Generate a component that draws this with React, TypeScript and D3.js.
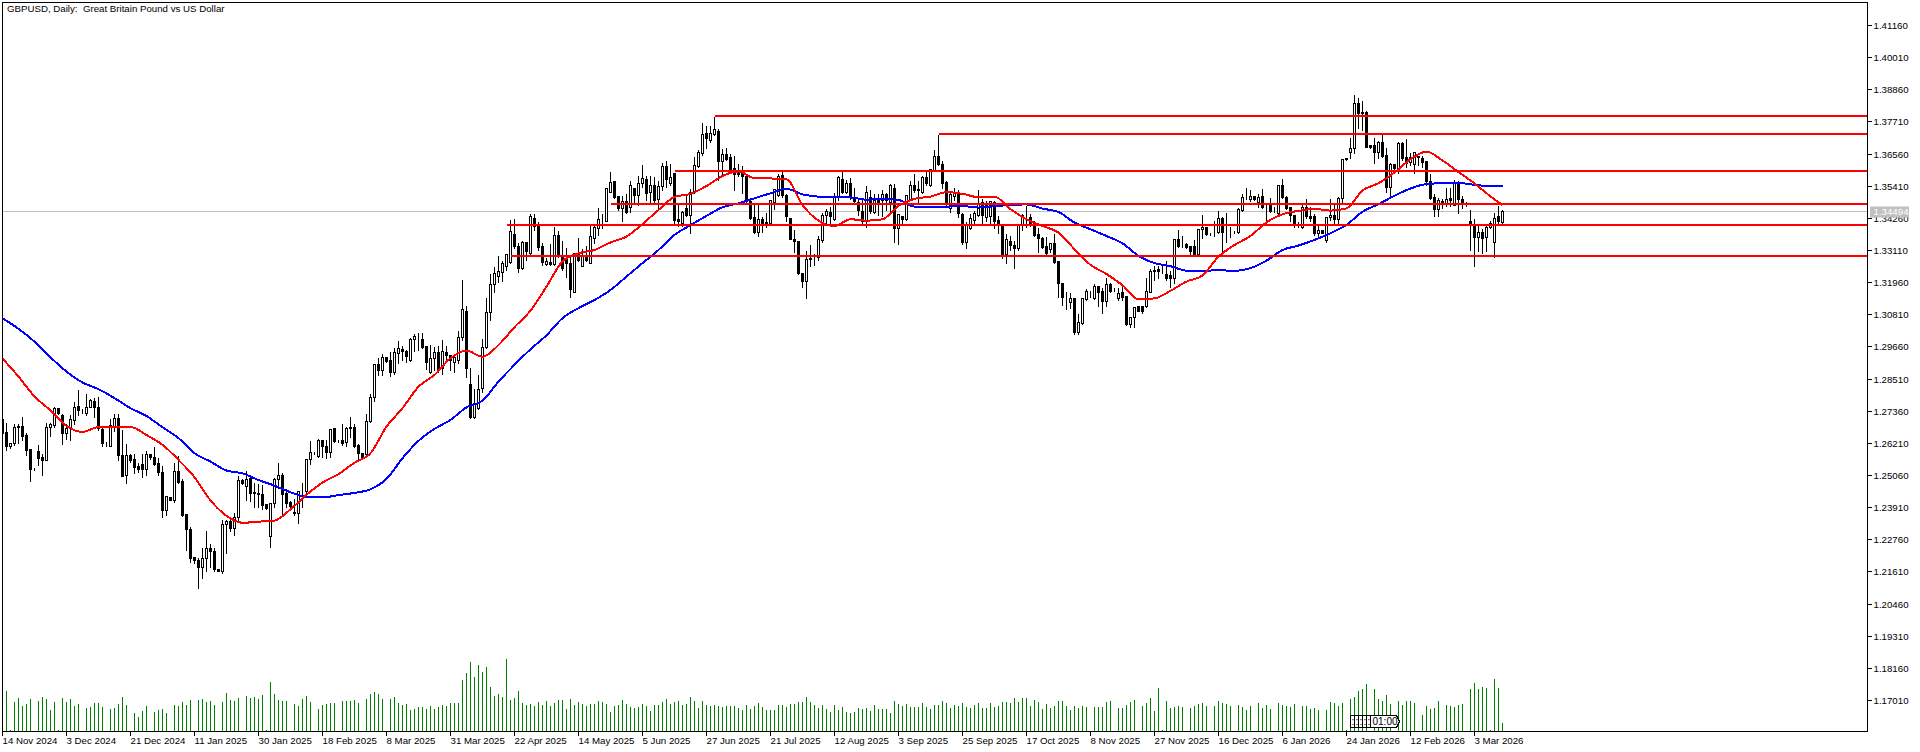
import React, { useEffect, useRef } from 'react';
import * as d3 from 'd3';

// Daily GBPUSD bars, prices in pips (1.2705 = 12705)
const opens = [
  12705,12659,12608,12620,12677,12682,12648,12598,12530,12591,
  12570,12558,12679,12686,12746,12722,12655,12673,12703,12753,
  12741,12729,12748,12772,12748,12671,12620,12611,12679,12710,
  12577,12505,12577,12562,12539,12546,12529,12582,12572,12548,
  12517,12379,12426,12415,12519,12484,12367,12312,12214,12202,
  12178,12208,12245,12233,12171,12162,12329,12343,12318,12355,
  12488,12468,12494,12446,12443,12438,12403,12286,12405,12491,
  12506,12441,12411,12374,12369,12448,12448,12562,12587,12574,
  12630,12610,12589,12674,12629,12630,12623,12675,12676,12612,
  12584,12581,12698,12784,12903,12880,12927,12918,12876,12942,
  12956,12949,12918,12992,13000,12992,12968,12874,12924,12946,
  12888,12946,12936,12911,12918,12999,13092,12832,12715,12745,
  12816,12963,13090,13190,13218,13234,13255,13267,13367,13327,
  13245,13339,13302,13426,13397,13326,13261,13267,13261,13365,
  13290,13278,13264,13162,13299,13254,13293,13266,13353,13390,
  13418,13416,13520,13558,13505,13460,13485,13464,13532,13508,
  13550,13565,13520,13544,13493,13540,13612,13550,13586,13421,
  13409,13463,13437,13519,13613,13657,13729,13703,13725,13736,
  13631,13655,13643,13604,13592,13586,13574,13487,13428,13376,
  13421,13412,13407,13484,13508,13580,13508,13426,13350,13342,
  13230,13200,13278,13284,13287,13347,13437,13447,13423,13502,
  13564,13520,13550,13502,13484,13450,13413,13502,13448,13490,
  13490,13510,13484,13532,13389,13431,13421,13493,13543,13528,
  13519,13571,13543,13598,13648,13618,13556,13460,13505,13520,
  13440,13338,13389,13419,13437,13481,13428,13431,13484,13419,
  13404,13297,13344,13329,13317,13401,13437,13428,13407,13369,
  13355,13326,13315,13335,13270,13192,13144,13126,13138,13019,
  13051,13135,13162,13138,13183,13165,13130,13188,13168,13138,
  13159,13147,13047,13070,13109,13111,13109,13162,13240,13242,
  13242,13225,13220,13210,13350,13329,13333,13326,13326,13297,
  13385,13395,13371,13377,13375,13427,13379,13377,13376,13375,
  13454,13496,13493,13505,13484,13505,13466,13472,13460,13445,
  13544,13500,13464,13437,13404,13392,13464,13433,13431,13371,
  13381,13345,13428,13437,13421,13496,13639,13663,13677,13836,
  13805,13804,13686,13687,13663,13697,13651,13538,13619,13600,
  13695,13645,13627,13619,13648,13639,13630,13559,13502,13459,
  13488,13475,13496,13472,13556,13493,13478,13413,13403,13359,
  13375,13357,13392,13338,13433,13412,
];

const highs = [
  12705,12697,12620,12691,12691,12717,12661,12598,12536,12617,
  12584,12694,12694,12753,12751,12727,12691,12723,12772,12814,
  12746,12799,12781,12784,12787,12679,12627,12709,12729,12727,
  12671,12620,12584,12584,12554,12584,12596,12586,12610,12572,
  12542,12435,12431,12554,12578,12494,12369,12324,12217,12214,
  12250,12310,12262,12250,12171,12348,12350,12355,12375,12506,
  12494,12524,12500,12482,12477,12474,12405,12407,12500,12552,
  12518,12459,12417,12423,12453,12482,12566,12632,12593,12638,
  12634,12634,12674,12679,12634,12691,12682,12717,12691,12622,
  12586,12727,12801,12906,12927,12944,12932,12948,12965,12989,
  12971,12956,12999,13013,13016,13019,12971,12975,12968,12971,
  12992,12971,12939,12939,13025,13208,13115,12892,12816,12868,
  12995,13144,13228,13252,13293,13276,13302,13422,13425,13341,
  13347,13341,13443,13443,13413,13341,13287,13335,13397,13381,
  13347,13323,13297,13305,13359,13317,13329,13401,13401,13466,
  13443,13536,13594,13558,13508,13508,13516,13562,13536,13580,
  13618,13580,13580,13576,13562,13627,13633,13624,13588,13484,
  13454,13508,13532,13648,13671,13770,13759,13759,13791,13747,
  13677,13681,13657,13651,13621,13615,13588,13502,13476,13484,
  13433,13448,13493,13532,13586,13592,13514,13428,13385,13345,
  13234,13311,13333,13299,13365,13448,13463,13469,13520,13580,
  13592,13564,13571,13536,13502,13493,13544,13528,13514,13516,
  13528,13520,13550,13550,13443,13437,13510,13562,13586,13562,
  13580,13592,13604,13671,13726,13633,13562,13520,13536,13528,
  13448,13413,13445,13454,13530,13496,13490,13490,13490,13437,
  13407,13371,13365,13347,13407,13443,13472,13443,13419,13395,
  13361,13361,13341,13371,13276,13198,13166,13162,13142,13085,
  13142,13174,13168,13194,13186,13180,13216,13198,13177,13180,
  13186,13150,13073,13111,13111,13115,13216,13246,13258,13258,
  13264,13276,13240,13353,13385,13365,13341,13329,13350,13389,
  13440,13397,13377,13419,13454,13431,13448,13397,13381,13466,
  13516,13536,13528,13508,13514,13532,13481,13502,13469,13546,
  13568,13508,13466,13440,13413,13484,13496,13469,13443,13404,
  13383,13433,13496,13478,13505,13638,13643,13714,13869,13858,
  13848,13812,13687,13717,13705,13732,13681,13627,13621,13701,
  13701,13711,13663,13663,13651,13651,13633,13586,13514,13502,
  13496,13536,13536,13564,13562,13508,13488,13458,13425,13401,
  13389,13409,13419,13448,13472,13457,
];

const lows = [
  12658,12596,12602,12614,12620,12632,12576,12486,12523,12542,
  12506,12558,12646,12679,12725,12617,12634,12632,12689,12721,
  12729,12721,12748,12715,12667,12610,12611,12608,12665,12560,
  12503,12477,12554,12512,12515,12500,12506,12564,12542,12506,
  12354,12363,12415,12411,12479,12360,12238,12193,12190,12101,
  12139,12163,12178,12164,12162,12157,12228,12307,12292,12345,
  12474,12417,12414,12393,12393,12384,12386,12250,12393,12459,
  12367,12393,12391,12363,12333,12393,12429,12544,12581,12572,
  12572,12566,12572,12624,12623,12614,12610,12643,12605,12562,
  12562,12578,12697,12769,12864,12864,12912,12861,12868,12908,
  12918,12912,12915,12951,12954,12960,12884,12870,12882,12876,
  12868,12918,12882,12876,12908,12989,12855,12709,12709,12741,
  12804,12960,13061,13162,13198,13200,13240,13264,13317,13234,
  13242,13276,13297,13381,13311,13258,13258,13258,13258,13287,
  13240,13216,13142,13159,13272,13252,13273,13264,13335,13365,
  13389,13413,13520,13496,13454,13413,13445,13448,13478,13472,
  13536,13490,13478,13484,13460,13526,13538,13544,13409,13397,
  13397,13434,13371,13514,13609,13651,13675,13699,13723,13562,
  13583,13633,13592,13524,13576,13514,13484,13421,13373,13361,
  13377,13392,13404,13457,13505,13500,13416,13350,13305,13225,
  13178,13141,13252,13258,13276,13341,13404,13407,13419,13490,
  13516,13516,13493,13478,13437,13404,13392,13445,13445,13437,
  13431,13454,13443,13341,13333,13401,13419,13490,13520,13481,
  13516,13544,13540,13595,13615,13534,13469,13448,13490,13428,
  13333,13317,13385,13404,13433,13401,13413,13401,13389,13371,
  13282,13264,13311,13248,13311,13381,13392,13397,13361,13305,
  13317,13293,13305,13264,13142,13115,13099,13103,13010,13010,
  13047,13132,13144,13136,13109,13085,13109,13162,13165,13132,
  13132,13043,13037,13037,13091,13085,13106,13159,13204,13210,
  13228,13204,13180,13192,13323,13321,13317,13297,13293,13293,
  13353,13365,13365,13361,13371,13309,13341,13357,13371,13373,
  13452,13493,13488,13490,13464,13460,13413,13448,13448,13440,
  13496,13457,13416,13392,13395,13390,13425,13416,13365,13361,
  13371,13341,13419,13401,13404,13478,13633,13639,13657,13747,
  13741,13679,13675,13621,13639,13643,13520,13505,13592,13586,
  13633,13607,13615,13588,13615,13609,13544,13494,13433,13433,
  13460,13469,13469,13472,13443,13460,13469,13311,13252,13309,
  13299,13309,13389,13285,13409,13409,
];

const closes = [
  12658,12608,12620,12677,12682,12647,12596,12529,12530,12567,
  12558,12679,12689,12746,12729,12655,12673,12705,12751,12739,
  12742,12748,12775,12748,12673,12620,12620,12684,12710,12577,
  12503,12578,12560,12536,12528,12529,12582,12570,12546,12517,
  12379,12431,12417,12519,12482,12364,12312,12209,12202,12178,
  12209,12245,12233,12169,12162,12330,12341,12316,12355,12488,
  12479,12492,12443,12441,12437,12398,12388,12405,12491,12506,
  12438,12407,12395,12369,12448,12449,12562,12587,12587,12630,
  12608,12590,12672,12627,12629,12621,12673,12676,12610,12584,
  12570,12698,12784,12903,12880,12927,12915,12876,12945,12960,
  12948,12930,12993,13004,13001,12965,12912,12924,12946,12882,
  12949,12936,12918,12927,12999,13099,12888,12715,12765,12813,
  12963,13090,13190,13228,13237,13264,13297,13379,13327,13247,
  13340,13308,13432,13397,13323,13268,13271,13260,13365,13290,
  13248,13264,13171,13302,13276,13293,13276,13361,13395,13421,
  13419,13533,13556,13500,13460,13488,13448,13544,13508,13552,
  13568,13516,13544,13490,13540,13612,13564,13571,13419,13416,
  13448,13438,13520,13614,13661,13725,13711,13729,13743,13631,
  13655,13638,13598,13583,13583,13574,13490,13426,13376,13421,
  13409,13407,13490,13530,13576,13506,13431,13352,13342,13228,
  13200,13278,13282,13284,13350,13438,13450,13433,13505,13571,
  13520,13550,13502,13488,13454,13413,13520,13450,13490,13478,
  13510,13490,13544,13389,13439,13423,13508,13543,13524,13524,
  13571,13552,13600,13648,13618,13552,13476,13512,13519,13443,
  13339,13404,13425,13443,13478,13437,13472,13488,13416,13404,
  13293,13350,13329,13317,13404,13437,13437,13404,13365,13353,
  13323,13299,13335,13267,13192,13144,13144,13138,13019,13053,
  13138,13165,13162,13183,13162,13130,13188,13166,13168,13156,
  13144,13047,13070,13107,13094,13094,13165,13237,13235,13237,
  13242,13210,13210,13350,13326,13329,13323,13309,13297,13386,
  13395,13367,13371,13377,13427,13377,13379,13377,13376,13457,
  13500,13496,13503,13493,13502,13464,13464,13452,13460,13544,
  13500,13460,13437,13401,13404,13464,13431,13425,13373,13381,
  13373,13428,13437,13423,13496,13636,13636,13677,13836,13800,
  13800,13681,13679,13663,13697,13649,13538,13618,13604,13695,
  13639,13621,13645,13660,13643,13625,13559,13496,13458,13490,
  13478,13494,13490,13556,13493,13481,13478,13403,13359,13375,
  13354,13392,13409,13426,13414,13449,
];

const volumes = [
  0,120,3,87,99,75,81,96,0,90,
  102,96,63,87,3,99,87,96,75,81,
  0,69,72,84,84,72,0,66,69,81,
  102,78,0,54,42,60,75,0,57,63,
  66,54,0,78,75,87,78,93,0,93,
  96,87,90,78,0,87,114,93,90,99,
  0,105,99,102,96,108,3,147,111,93,
  90,90,0,81,75,96,105,87,0,66,
  78,81,84,84,0,90,90,90,93,84,
  0,96,111,117,111,96,0,96,102,84,
  78,81,63,66,71,71,66,75,66,72,
  78,75,84,84,84,153,174,207,162,198,
  177,192,132,105,111,102,216,93,99,120,
  84,78,81,75,87,78,90,75,84,93,
  93,66,96,78,87,81,75,81,81,90,
  87,81,57,75,78,93,81,72,69,72,
  81,75,60,78,78,87,96,81,87,90,
  78,81,102,90,69,90,78,75,78,75,
  72,75,75,75,69,63,78,66,75,84,
  72,63,63,63,78,78,72,81,81,87,
  87,102,87,78,69,78,66,57,78,63,
  72,57,54,57,69,66,69,60,78,66,
  66,66,54,90,81,75,81,72,72,72,
  84,72,66,78,78,90,84,69,78,75,
  84,72,69,78,84,69,69,84,72,75,
  87,87,84,99,87,99,99,75,93,87,
  66,81,69,75,90,90,75,63,75,69,
  75,72,0,72,72,72,87,90,0,69,
  69,78,87,93,0,75,84,99,60,129,
  3,90,69,72,75,72,0,69,75,81,
  84,75,0,75,90,84,81,75,0,78,
  72,63,75,0,84,69,78,66,0,84,
  78,75,72,81,0,75,75,66,69,63,
  0,63,87,84,75,84,3,96,102,120,
  126,141,0,126,96,90,108,81,0,90,
  78,90,90,84,0,48,75,66,69,90,
  0,78,75,72,78,81,0,126,144,126,
  132,129,3,156,129,24,
];

// Moving averages, read every fourth bar plus the last one
const redMa = [
  12923,12858,12787,12737,12682,12660,12677,12677,12678,12649,
  12614,12560,12498,12415,12360,12335,12339,12343,12383,12435,
  12479,12509,12550,12584,12679,12745,12822,12864,12924,12951,
  12929,12971,13035,13094,13180,13270,13299,13311,13338,13359,
  13404,13454,13501,13512,13540,13576,13592,13568,13567,13564,
  13472,13416,13397,13421,13416,13421,13469,13494,13502,13518,
  13512,13500,13502,13457,13421,13397,13373,13314,13258,13225,
  13185,13135,13138,13165,13198,13220,13287,13329,13361,13410,
  13439,13451,13458,13452,13460,13524,13550,13588,13636,13663,
  13631,13590,13549,13503,13472,
];

const blueMa = [
  13067,13029,12983,12927,12876,12837,12813,12781,12745,12717,
  12677,12638,12584,12554,12522,12512,12488,12468,12444,12428,
  12426,12434,12442,12455,12492,12566,12628,12671,12703,12748,
  12772,12840,12900,12956,13006,13067,13103,13132,13168,13216,
  13264,13311,13365,13400,13433,13464,13478,13496,13514,13530,
  13510,13502,13499,13499,13491,13493,13490,13466,13464,13466,
  13468,13463,13468,13472,13474,13459,13447,13409,13385,13361,
  13335,13290,13264,13253,13237,13236,13239,13236,13246,13273,
  13311,13327,13347,13371,13401,13448,13475,13505,13531,13547,
  13550,13551,13544,13540,13540,
];

// Support and resistance levels (price, bar they start from)
const levelPrices = [1.37904, 1.3726, 1.35936, 1.34756, 1.34004, 1.32895];
const levelStarts = [178, 234, 168, 152, 126, 127];

const lastPrice = 1.34494;
const priceTicks = d3.range(0, 22).map(i => 1.4116 - i * 0.0115);
const dateLabels = [
  '14 Nov 2024', '3 Dec 2024', '21 Dec 2024', '11 Jan 2025', '30 Jan 2025', '18 Feb 2025',
  '8 Mar 2025', '31 Mar 2025', '22 Apr 2025', '14 May 2025', '5 Jun 2025', '27 Jun 2025',
  '21 Jul 2025', '12 Aug 2025', '3 Sep 2025', '25 Sep 2025', '17 Oct 2025', '8 Nov 2025',
  '27 Nov 2025', '16 Dec 2025', '6 Jan 2026', '24 Jan 2026', '12 Feb 2026', '3 Mar 2026',
];
const tagBars = [337, 338, 339, 340, 341, 342];
const tagText = '01:00';
const title = 'GBPUSD, Daily:  Great Britain Pound vs US Dollar';

const FONT = '"Liberation Sans", Arial, sans-serif';

const App: React.FC = () => {
  const svgRef = useRef<SVGSVGElement | null>(null);

  useEffect(() => {
    if (!svgRef.current) return;

    const width = 1920;
    const height = 752;
    const frame = { left: 2.5, top: 2.5, right: 1867.5, bottom: 731.5 };

    const svg = d3.select(svgRef.current);
    svg.selectAll('*').remove();

    const x = d3.scaleLinear().domain([0, 375]).range([2.5, 1502.5]);
    const yRaw = d3.scaleLinear().domain([1.4116, 1.1701]).range([25, 700]);
    const y = (p: number) => Math.round(yRaw(p)) + 0.5;
    const yPip = (p: number) => y(p / 10000);
    const vol = d3.scaleLinear().domain([0, 216]).range([731, 659]);

    svg.append('defs').append('clipPath').attr('id', 'plot')
      .append('rect').attr('x', frame.left).attr('y', frame.top)
      .attr('width', frame.right - frame.left).attr('height', frame.bottom - frame.top);

    const g = svg.append('g').attr('clip-path', 'url(#plot)');
    const crisp = g.append('g').attr('shape-rendering', 'crispEdges');

    // last price line
    crisp.append('line')
      .attr('x1', frame.left).attr('x2', frame.right)
      .attr('y1', y(lastPrice)).attr('y2', y(lastPrice))
      .attr('stroke', '#c0c0c0');

    // volume
    crisp.selectAll('.vol').data(volumes.map((v, i) => ({ v, i })).filter(d => d.v > 0)).enter().append('line')
      .attr('x1', d => x(d.i)).attr('x2', d => x(d.i))
      .attr('y1', 731).attr('y2', d => vol(d.v))
      .attr('stroke', '#008000');

    // candles
    const bars = d3.range(0, 376);
    crisp.selectAll('.wick').data(bars).enter().append('line')
      .attr('x1', i => x(i)).attr('x2', i => x(i))
      .attr('y1', i => yPip(highs[i])).attr('y2', i => yPip(lows[i]) + 0.5)
      .attr('stroke', '#000');
    crisp.selectAll('.body').data(bars).enter().append('rect')
      .attr('x', i => x(i) - 1).attr('width', 2)
      .attr('y', i => Math.min(yPip(opens[i]), yPip(closes[i])))
      .attr('height', i => Math.abs(yPip(opens[i]) - yPip(closes[i])))
      .attr('fill', i => (closes[i] > opens[i] ? '#fff' : '#000'))
      .attr('stroke', '#000');

    // moving averages
    const maBars = d3.range(0, 376, 4).concat(375);
    const lineGen = d3.line<number>()
      .x((_d, k) => x(maBars[k]))
      .y(d => yRaw(d / 10000))
      .curve(d3.curveMonotoneX);
    const maLayer = g.append('g').attr('shape-rendering', 'crispEdges');
    maLayer.append('path').attr('d', lineGen(blueMa)).attr('fill', 'none').attr('stroke', '#0000ff').attr('stroke-width', 2);
    maLayer.append('path').attr('d', lineGen(redMa)).attr('fill', 'none').attr('stroke', '#ff0000').attr('stroke-width', 2);

    // horizontal levels
    const levelLayer = g.append('g').attr('shape-rendering', 'crispEdges');
    levelLayer.selectAll('.level').data(levelPrices).enter().append('line')
      .attr('x1', (_d, i) => x(levelStarts[i])).attr('x2', frame.right)
      .attr('y1', d => Math.round(yRaw(d))).attr('y2', d => Math.round(yRaw(d)))
      .attr('stroke', '#ff0000').attr('stroke-width', 2);

    // stacked 01:00 tags near the bottom, each one covers the previous,
    // so the covered ones only show a sliver of their text
    const tags = g.append('g');
    tagBars.forEach((b, k) => {
      const l = x(b);
      const tag = tags.append('g');
      tag.append('path')
        .attr('d', `M${l},715.5 H${l + 26} L${l + 29},721.5 L${l + 26},727.5 H${l} Z`)
        .attr('fill', '#fff').attr('stroke', '#000').attr('shape-rendering', 'crispEdges');
      tag.append('text').attr('x', l + (k === tagBars.length - 1 ? 2 : 1)).attr('y', 725)
        .attr('font-family', FONT).attr('font-size', 10).attr('fill', '#000')
        .text(k === tagBars.length - 1 ? tagText : ':');
    });

    // frame
    svg.append('rect')
      .attr('x', frame.left).attr('y', frame.top)
      .attr('width', frame.right - frame.left).attr('height', frame.bottom - frame.top)
      .attr('fill', 'none').attr('stroke', '#000').attr('shape-rendering', 'crispEdges');

    // price axis
    const axisY = svg.append('g');
    axisY.selectAll('.ptick').data(priceTicks).enter().append('line')
      .attr('x1', frame.right).attr('x2', frame.right + 4)
      .attr('y1', d => y(d)).attr('y2', d => y(d))
      .attr('stroke', '#000').attr('shape-rendering', 'crispEdges');
    axisY.selectAll('.plabel').data(priceTicks).enter().append('text')
      .attr('x', 1873.5).attr('y', d => y(d) + 3.5)
      .attr('font-family', FONT).attr('font-size', 9.7).attr('fill', '#000')
      .text(d => d.toFixed(5));

    // last price tag
    svg.append('rect').attr('x', 1870).attr('y', y(lastPrice) - 5).attr('width', 39).attr('height', 11).attr('fill', '#c0c0c0');
    svg.append('text').attr('x', 1873.5).attr('y', y(lastPrice) + 3.5)
      .attr('font-family', FONT).attr('font-size', 9.7).attr('fill', '#fff')
      .text(lastPrice.toFixed(5));

    // date axis
    const axisX = svg.append('g');
    axisX.selectAll('.dtick').data(dateLabels).enter().append('line')
      .attr('x1', (_d, i) => x(i * 16)).attr('x2', (_d, i) => x(i * 16))
      .attr('y1', 731).attr('y2', 736)
      .attr('stroke', '#000').attr('shape-rendering', 'crispEdges');
    axisX.selectAll('.dlabel').data(dateLabels).enter().append('text')
      .attr('x', (_d, i) => x(i * 16)).attr('y', 744)
      .attr('font-family', FONT).attr('font-size', 9.7).attr('fill', '#000')
      .text(d => d);

    svg.append('text').attr('x', 7).attr('y', 12)
      .attr('font-family', FONT).attr('font-size', 9.7).attr('fill', '#000')
      .style('white-space', 'pre').text(title);

    svg.attr('width', width).attr('height', height);
  }, []);

  return (
    <svg
      ref={svgRef}
      width={1920}
      height={752}
      style={{ position: 'fixed', left: 0, top: 0, background: '#fff', display: 'block' }}
    />
  );
};

export default App;
